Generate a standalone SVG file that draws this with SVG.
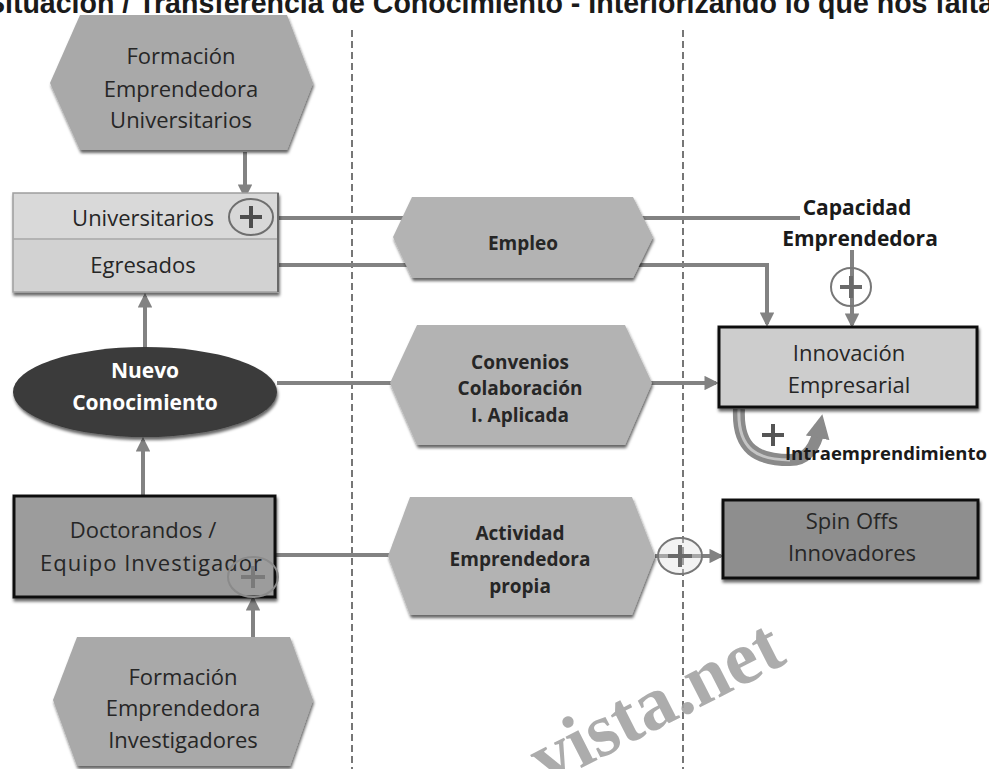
<svg xmlns="http://www.w3.org/2000/svg" width="989" height="769" viewBox="0 0 989 769">
<style>
.t{font-family:"Open Sans",Lato,"Liberation Sans",sans-serif;fill:#262626;text-anchor:middle;font-size:22px}
.b{font-weight:bold;font-size:19px}
.w{fill:#ffffff;font-weight:bold;font-size:21px}
.conn{stroke:#828282;stroke-width:4;fill:none}
.dash{stroke:#4a4a4a;stroke-width:1.5;stroke-dasharray:7 4;fill:none}
.hex{fill:#a9a9a9;filter:url(#sh)}
.hexl{fill:#b3b3b3;filter:url(#sh)}
.pl{stroke:#4d4d4d;stroke-width:4;fill:none}
.pc{fill:#d6d6d6;fill-opacity:.55;stroke:#6e6e6e;stroke-width:2}
.lbl{font-family:"Open Sans",Lato,sans-serif;font-weight:bold;fill:#1a1a1a}
</style>
<defs>
<marker id="arr" viewBox="0 0 10 10" refX="8" refY="5" markerWidth="3.6" markerHeight="3.6" orient="auto" markerUnits="strokeWidth"><path d="M0,0 L10,5 L0,10 z" fill="#828282"/></marker>
<marker id="arrBig" viewBox="0 0 10 10" refX="5" refY="5" markerWidth="24" markerHeight="24" orient="auto" markerUnits="userSpaceOnUse"><path d="M0,0 L10,5 L0,10 z" fill="#8a8a8a"/></marker>
<filter id="sh" x="-10%" y="-10%" width="120%" height="130%"><feDropShadow dx="1" dy="3" stdDeviation="1.5" flood-color="#000" flood-opacity=".6"/></filter>
</defs>
<rect width="989" height="769" fill="#ffffff"/>
<text x="-14" y="13" style="font-family:'Liberation Sans',Arial,sans-serif;font-weight:bold;font-size:30px;fill:#1a1a1a" textLength="1008" lengthAdjust="spacingAndGlyphs">Situación / Transferencia de Conocimiento - Interiorizando lo que nos falta</text>
<g id="lanes">
<line class="dash" x1="352" y1="30" x2="352" y2="769"/>
<line class="dash" x1="683" y1="30" x2="683" y2="769"/>
</g>
<g id="connectors">
<path class="conn" d="M245,152 V196" marker-end="url(#arr)"/>
<path class="conn" d="M270,218 H800"/>
<path class="conn" d="M278,265 H767 V324" marker-end="url(#arr)"/>
<path class="conn" d="M277,383 H716" marker-end="url(#arr)"/>
<path class="conn" d="M145,347 V296" marker-end="url(#arr)"/>
<path class="conn" d="M143,495 V440" marker-end="url(#arr)"/>
<path class="conn" d="M253,637 V599" marker-end="url(#arr)"/>
<path class="conn" d="M275,555 H392"/>
<path class="conn" d="M655,556 H721" marker-end="url(#arr)"/>
<path class="conn" d="M852,250 V325" marker-end="url(#arr)"/>
<path d="M739,409 C737,450 758,460 790,460 C808,460 816,446 820,426" stroke="#8a8a8a" stroke-width="12" fill="none" marker-end="url(#arrBig)"/>
<path d="M739,409 C737,450 758,460 790,460" stroke="#c4c4c4" stroke-width="3" fill="none"/>
</g>
<g id="formacion-universitarios">
<polygon class="hex" points="50,83 80,15 287,15 313,83 287,150 80,150"/>
<text class="t" x="181" y="64">Formación</text>
<text class="t" x="181" y="97">Emprendedora</text>
<text class="t" x="181" y="128">Universitarios</text>
</g>
<g id="universitarios-egresados">
<rect x="13" y="193" width="265" height="99" fill="#d2d2d2" stroke="#a0a0a0" stroke-width="1.5" filter="url(#sh)"/>
<rect x="14" y="194" width="263" height="44" fill="#d9d9d9"/>
<line x1="13" y1="239" x2="278" y2="239" stroke="#a8a8a8" stroke-width="1.5"/>
<line x1="278" y1="193" x2="278" y2="292" stroke="#6a6a6a" stroke-width="2"/>
<text class="t" x="143" y="226">Universitarios</text>
<text class="t" x="143" y="273">Egresados</text>
<ellipse class="pc" cx="251" cy="217" rx="22" ry="18"/>
<path class="pl" d="M240,217 H262 M251,206 V228"/>
</g>
<g id="nuevo-conocimiento">
<ellipse cx="145" cy="392" rx="132" ry="45" fill="#3a3a3a" filter="url(#sh)"/>
<text class="t w" x="145" y="378">Nuevo</text>
<text class="t w" x="145" y="410">Conocimiento</text>
</g>
<g id="doctorandos">
<rect x="14" y="496" width="261" height="101" fill="#9c9c9c" stroke="#111" stroke-width="3" filter="url(#sh)"/>
<text class="t" x="143" y="538">Doctorandos /</text>
<text class="t" x="151" y="571" textLength="222" lengthAdjust="spacing">Equipo Investigador</text>
<ellipse cx="253" cy="577" rx="25" ry="20" fill="none" stroke="#8a8a8a" stroke-width="2"/>
<path d="M241,577 H265 M253,566 V588" stroke="#7a7a7a" stroke-width="4" fill="none"/>
</g>
<g id="formacion-investigadores">
<polygon class="hex" points="53,700 77,637 290,637 313,700 290,766 77,766"/>
<text class="t" x="183" y="685">Formación</text>
<text class="t" x="183" y="716">Emprendedora</text>
<text class="t" x="183" y="748">Investigadores</text>
</g>
<g id="empleo">
<polygon class="hexl" points="393,237 412,197 633,197 653,237 633,278 412,278"/>
<text class="t b" x="523" y="250">Empleo</text>
</g>
<g id="convenios">
<polygon class="hexl" points="390,383 417,325 625,325 652,383 625,445 417,445"/>
<text class="t b" x="520" y="369">Convenios</text>
<text class="t b" x="520" y="395">Colaboración</text>
<text class="t b" x="520" y="422">I. Aplicada</text>
</g>
<g id="actividad">
<polygon class="hexl" points="388,556 410,497 632,497 655,556 632,615 410,615"/>
<text class="t b" x="520" y="540">Actividad</text>
<text class="t b" x="520" y="566">Emprendedora</text>
<text class="t b" x="520" y="593">propia</text>
</g>
<g id="plus-spin">
<ellipse cx="680" cy="556" rx="22" ry="18" fill="#e0e0e0" fill-opacity=".4" stroke="#777" stroke-width="2"/>
<path d="M668,556 H692 M680,545 V567" stroke="#6a6a6a" stroke-width="4" fill="none"/>
</g>
<g id="capacidad">
<text class="lbl" x="857" y="215" text-anchor="middle" font-size="21">Capacidad</text>
<text class="lbl" x="860" y="246" text-anchor="middle" font-size="21">Emprendedora</text>
<ellipse cx="851" cy="287" rx="20" ry="19" fill="none" stroke="#777" stroke-width="2"/>
<path d="M840,287 H862 M851,276 V298" stroke="#6a6a6a" stroke-width="4" fill="none"/>
</g>
<g id="innovacion">
<rect x="719" y="327" width="258" height="80" fill="#cdcdcd" stroke="#111" stroke-width="3" filter="url(#sh)"/>
<text class="t" x="849" y="361">Innovación</text>
<text class="t" x="849" y="393">Empresarial</text>
</g>
<g id="intraemprendimiento">
<path d="M762,435 H784 M773,424 V446" stroke="#555" stroke-width="4" fill="none"/>
<text class="lbl" x="785" y="460" font-size="18.5">Intraemprendimiento</text>
</g>
<g id="spin-offs">
<rect x="723" y="500" width="255" height="78" fill="#8e8e8e" stroke="#111" stroke-width="3" filter="url(#sh)"/>
<text class="t" x="852" y="529">Spin Offs</text>
<text class="t" x="852" y="561">Innovadores</text>
</g>
<text x="546" y="786" transform="rotate(-27 546 786)" style="font-family:'Liberation Serif',serif;font-weight:bold;font-size:76px;fill:#a3a3a3" fill-opacity=".9">vista.net</text>
</svg>
